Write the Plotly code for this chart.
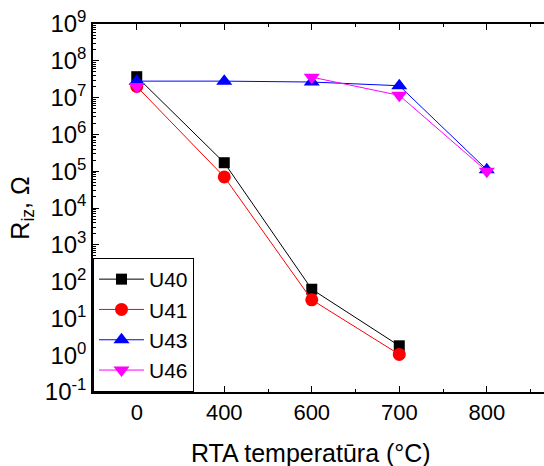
import plotly.graph_objects as go

# RTA annealing temperatures (°C), plotted as evenly spaced categories
temperatures = ["0", "400", "600", "700", "800"]

# Isolation resistance R_iz (Ohm) per sample; None where not measured
u40 = [3.7e7, 1.7e5, 62, 1.8, None]
u41 = [2.0e7, 7.0e4, 32, 1.05, None]
u43 = [2.8e7, 2.8e7, 2.65e7, 2.1e7, 1.1e5]
u46 = [2.0e7, None, 3.6e7, 1.15e7, 1.0e5]

ytick_exponents = list(range(-1, 10))

series = [
    ("U40", u40, "black", "square", 11),
    ("U41", u41, "red", "circle", 13),
    ("U43", u43, "blue", "triangle-up", 14),
    ("U46", u46, "magenta", "triangle-down", 14),
]

xpos = list(range(len(temperatures)))
FONT = "Liberation Sans, Arial, sans-serif"

# log minor ticks: 2..9 within every decade
minor_vals = [k * 10.0 ** e for e in ytick_exponents[:-1] for k in range(2, 10)]

fig = go.Figure()
for name, vals, color, symbol, size in series:
    fig.add_trace(go.Scatter(
        x=xpos, y=vals, name=name, mode="lines+markers",
        line=dict(color=color, width=1),
        marker=dict(symbol=symbol, size=size, color=color, line=dict(width=0)),
        connectgaps=False,
    ))

fig.update_layout(
    width=544, height=466,
    margin=dict(l=93, r=0, t=24, b=74),
    paper_bgcolor="white", plot_bgcolor="white",
    font=dict(family=FONT, color="black"),
    showlegend=True,
    legend=dict(
        x=0, y=0, xanchor="left", yanchor="bottom",
        bgcolor="white", bordercolor="black", borderwidth=1,
        font=dict(size=21, family=FONT),
        tracegroupgap=0, itemsizing="trace", itemwidth=45,
    ),
    annotations=[dict(
        text="RTA temperatūra (°C)", xref="paper", yref="paper",
        x=0.483, y=-0.166, xanchor="center", yanchor="middle",
        showarrow=False, font=dict(size=25, family=FONT),
    )],
)

fig.update_xaxes(
    range=[-0.5, 4.654],
    tickmode="array", tickvals=xpos, ticktext=temperatures,
    ticks="inside", ticklen=6, tickwidth=1, tickcolor="black",
    minor=dict(ticks="inside", ticklen=3, tickwidth=1, tickcolor="black",
               tick0=0, dtick=0.5, showgrid=False),
    showline=True, linecolor="black", linewidth=1.5, mirror="ticks",
    showgrid=False, zeroline=False,
    tickfont=dict(size=22, family=FONT),
)

fig.update_yaxes(
    type="log", range=[-1, 9],
    tickmode="array",
    tickvals=[10.0 ** e for e in ytick_exponents],
    ticktext=[f"10<sup>{e}</sup>" for e in ytick_exponents],
    ticks="inside", ticklen=6, tickwidth=1, tickcolor="black",
    minor=dict(ticks="inside", ticklen=3, tickwidth=1, tickcolor="black",
               tickmode="array", tickvals=minor_vals, showgrid=False),
    showline=True, linecolor="black", linewidth=1.5, mirror=False,
    showgrid=False, zeroline=False,
    tickfont=dict(size=24, family=FONT),
    title=dict(text="R<sub>iz</sub>, Ω", font=dict(size=25, family=FONT), standoff=8),
)

fig.write_html("out.html")
